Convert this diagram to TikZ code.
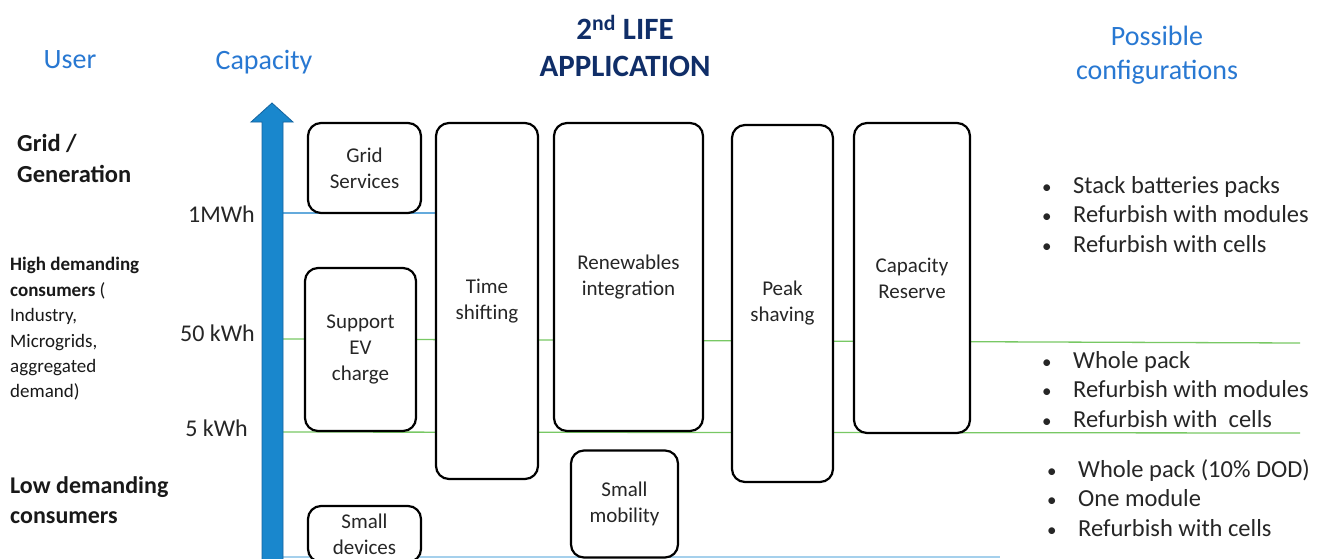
\documentclass[tikz,border=0pt]{standalone}
\usepackage{fontspec}
\setmainfont{Carlito}
\definecolor{lblue}{RGB}{40,120,210}
\definecolor{navy}{RGB}{16,46,104}
\definecolor{arrowfill}{RGB}{25,135,205}
\definecolor{arrowline}{RGB}{20,100,160}
\definecolor{lgreen}{RGB}{120,200,100}
\definecolor{mwline}{RGB}{100,170,220}
\definecolor{botline}{RGB}{165,208,236}
\newcommand{\bul}{\makebox[32pt][l]{\hspace{1pt}\fontsize{19}{19}\selectfont\textbullet}}
\begin{document}
\begin{tikzpicture}[x=1pt,y=-1pt,
  appbox/.style={draw=black, line width=2.2pt, rounded corners=13pt, fill=white, align=center,
    font=\fontsize{21}{26}\selectfont, inner sep=0pt, text=black!85},
  hdr/.style={text=lblue, font=\fontsize{28}{34}\selectfont, align=center, inner sep=0pt},
  caplbl/.style={anchor=east, inner sep=0pt, font=\fontsize{24}{29}\selectfont, text=black!85},
  cfg/.style={anchor=west, inner sep=0pt, align=left, font=\fontsize{24.5}{29.5}\selectfont, text=black!85}]
\useasboundingbox (0,0) rectangle (1327,558);
\clip (0,0) rectangle (1327,558);
\fill[white] (0,0) rectangle (1327,558);

% level lines
\coordinate (m1) at (283,213);
\coordinate (m2) at (436,213);
\coordinate (g1a) at (283,339);
\coordinate (g1b) at (1300,343);
\coordinate (g2a) at (283,432);
\coordinate (g2b) at (1300,433);
\coordinate (b1) at (283,557);
\coordinate (b2) at (1000,557);
\draw[mwline, line width=1.3pt] (m1) -- (m2);
\draw[lgreen, line width=1.3pt] (g1a) -- (g1b);
\draw[lgreen, line width=1.3pt] (g2a) -- (g2b);
\draw[botline, line width=1.5pt] (b1) -- (b2);

% application boxes
\node[appbox, minimum width=113pt, minimum height=90pt] (grid) at (364.5,168) {Grid\\Services};
\node[appbox, minimum width=111pt, minimum height=163pt] (ev) at (360.5,349.5) {Support\\EV\\charge};
\node[appbox, minimum width=113pt, minimum height=56pt] (dev) at (364.5,534) {Small\\devices};
\node[appbox, minimum width=102pt, minimum height=356pt] (time) at (487,301) {Time\\shifting};
\node[appbox, minimum width=149pt, minimum height=308pt] (ren) at (628.5,277) {Renewables\\integration};
\node[appbox, minimum width=107pt, minimum height=107pt] (mob) at (624.5,504) {Small\\mobility};
\node[appbox, minimum width=101pt, minimum height=357pt] (peak) at (782.5,303.5) {Peak\\shaving};
\node[appbox, minimum width=116pt, minimum height=310pt] (res) at (912,278) {Capacity\\Reserve};

% capacity arrow
\filldraw[fill=arrowfill, draw=arrowline, line width=0.8pt]
  (262,570) -- (262,122) -- (251,122) -- (272,103) -- (293,122) -- (283,122) -- (283,570) -- cycle;

% headers
\node[hdr] (user) at (70,60) {User};
\node[hdr] (capacity) at (264,62) {Capacity};
\node[inner sep=0pt, align=center, text=navy, font=\fontsize{31}{37}\bfseries\selectfont] (title) at (625,46) {2\textsuperscript{nd} LIFE\\APPLICATION};
\node[hdr] (poss) at (1157,55) {Possible\\configurations};

% user levels
\node[anchor=west, inner sep=0pt, align=left, font=\fontsize{24.5}{31}\bfseries\selectfont, text=black!90] (gridgen) at (17,158.5) {Grid /\\Generation};
\node[anchor=west, inner sep=0pt, align=left, font=\fontsize{19}{25.4}\selectfont, text=black!90] (high) at (10,329) {\textbf{High demanding}\\\textbf{consumers} (\\Industry,\\Microgrids,\\aggregated\\demand)};
\node[anchor=west, inner sep=0pt, align=left, font=\fontsize{24}{30}\bfseries\selectfont, text=black!90] (low) at (10,500) {Low demanding\\consumers};

% capacity labels
\node[caplbl] (c1) at (255,214) {1MWh};
\node[caplbl] (c2) at (255,333) {50 kWh};
\node[caplbl] (c3) at (248,428) {5 kWh};

% configurations
\node[cfg] (cfgA) at (1041,214.5) {\bul Stack batteries packs\\\bul Refurbish with modules\\\bul Refurbish with cells};
\node[cfg] (cfgB) at (1041,389.5) {\bul Whole pack\\\bul Refurbish with modules\\\bul Refurbish with\ \ cells};
\node[cfg] (cfgC) at (1046,498) {\bul Whole pack (10\% DOD)\\\bul One module\\\bul Refurbish with cells};
\end{tikzpicture}
\end{document}
